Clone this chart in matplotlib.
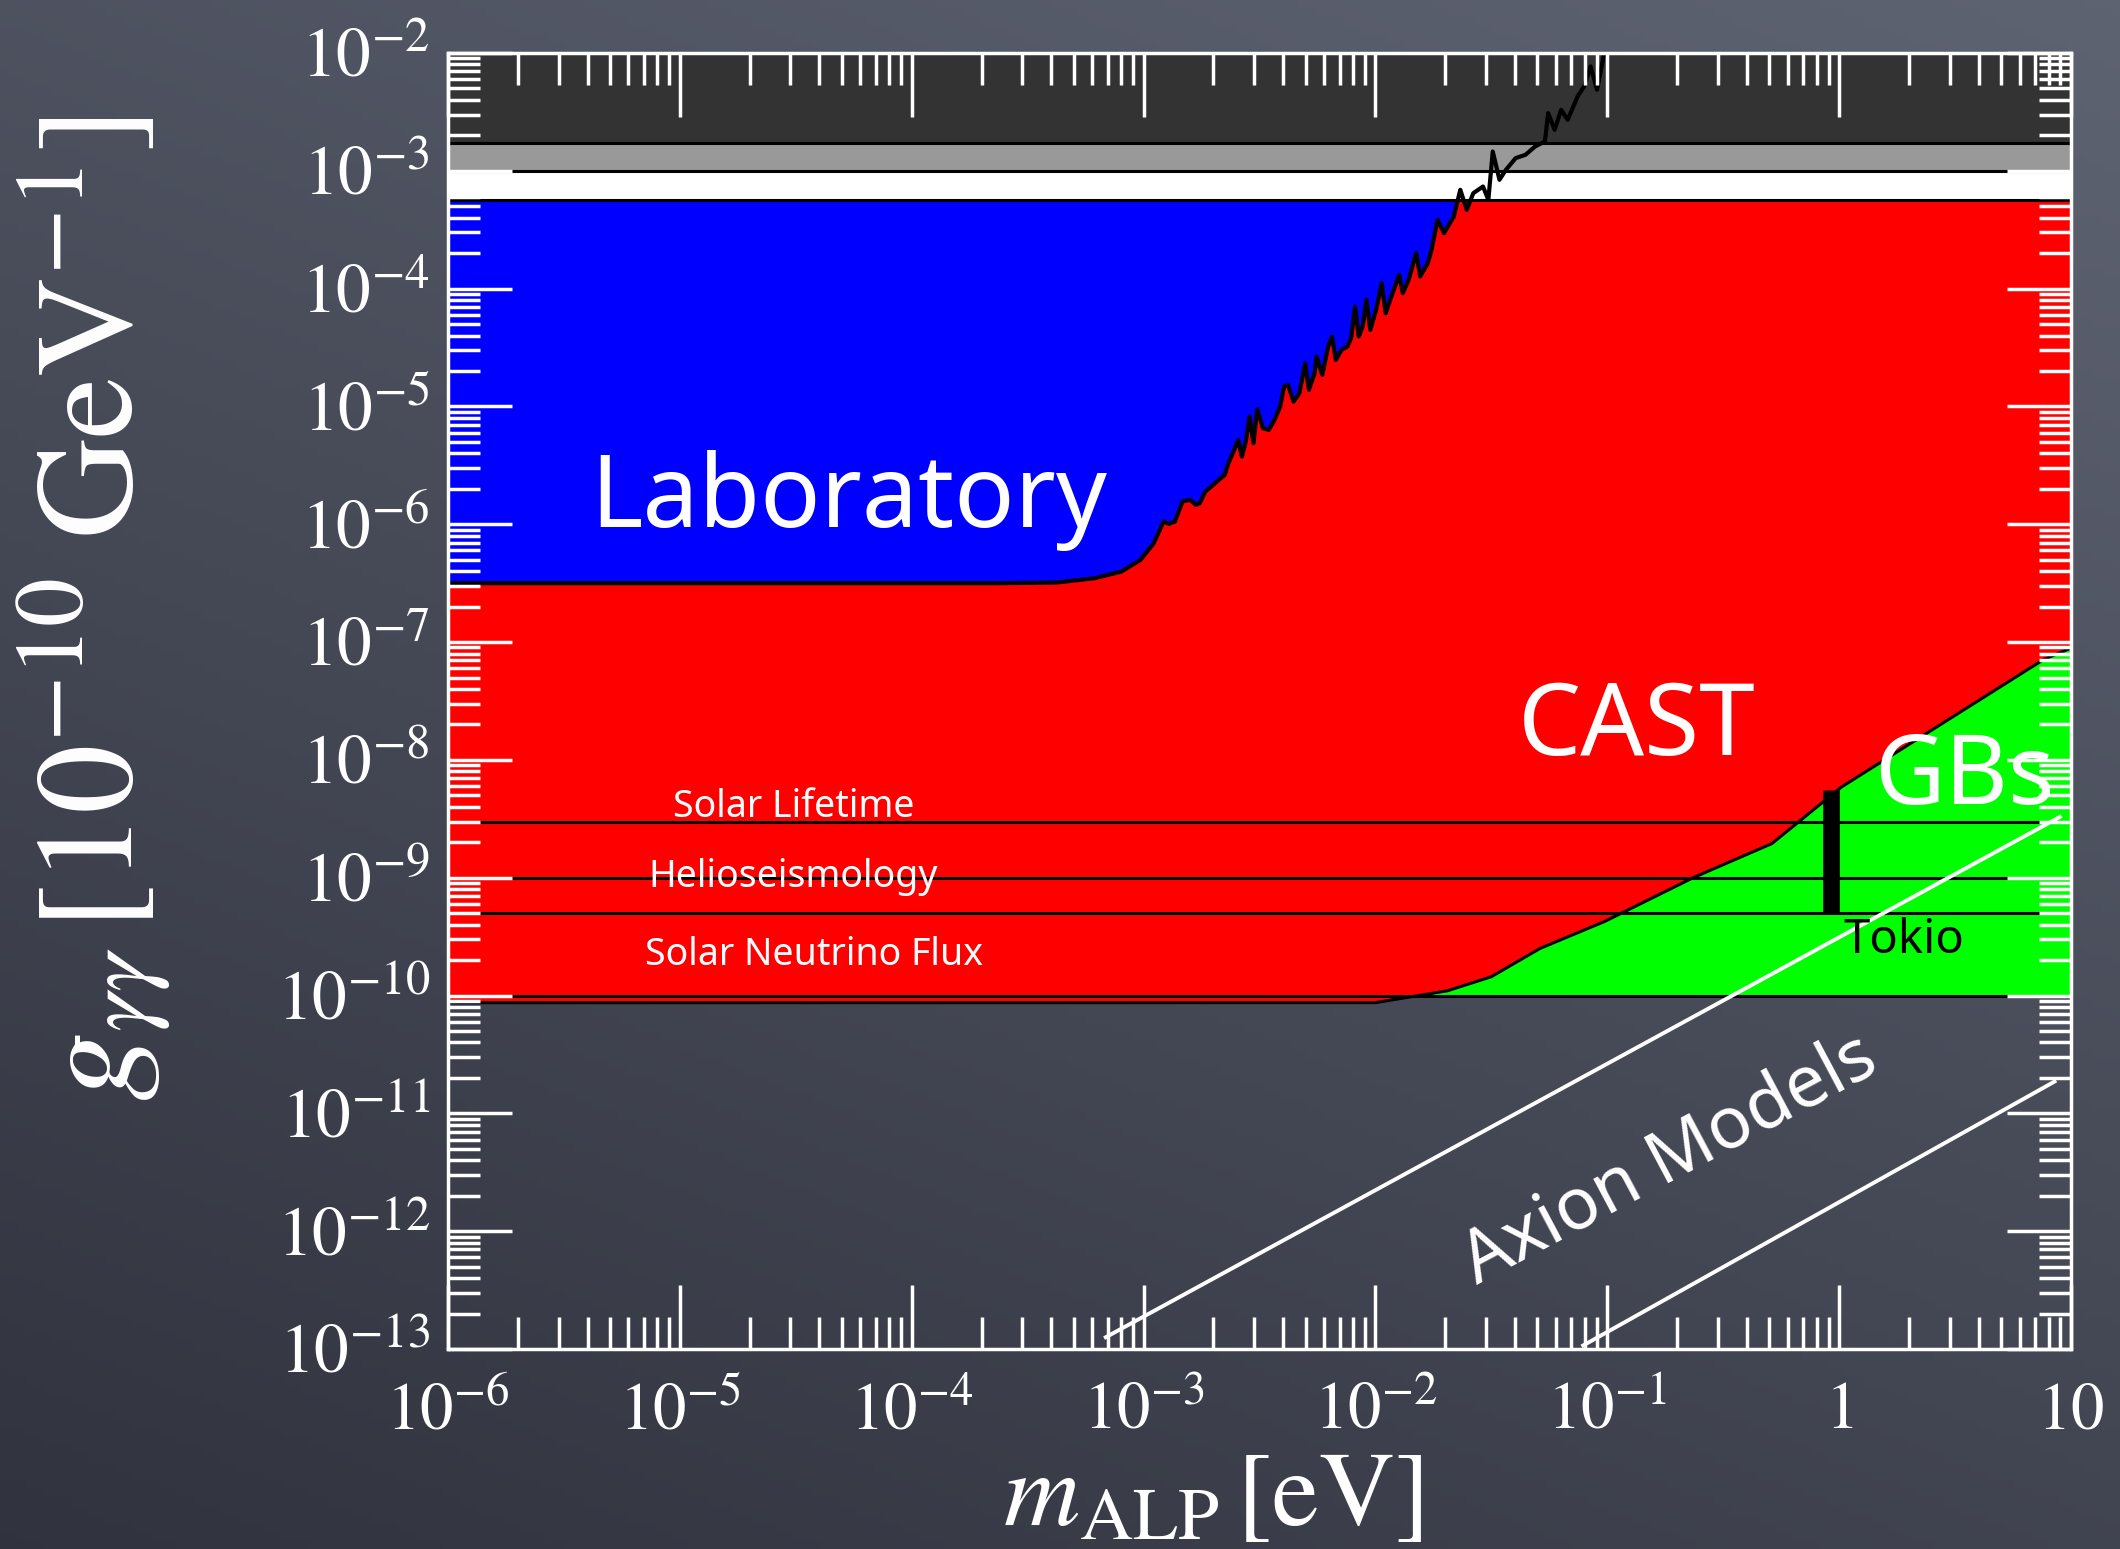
import numpy as np
import matplotlib
matplotlib.use("Agg")
import matplotlib.pyplot as plt
from matplotlib.ticker import FixedLocator, FixedFormatter, LogLocator, NullFormatter

# axis ranges and tick labels
m_lim = [1e-6, 10.0]
g_lim = [1e-13, 1e-2]
x_ticks = [1e-6, 1e-5, 1e-4, 1e-3, 1e-2, 1e-1, 1.0, 10.0]
x_ticklabels = [r"$10^{-6}$", r"$10^{-5}$", r"$10^{-4}$", r"$10^{-3}$",
                r"$10^{-2}$", r"$10^{-1}$", r"$1$", r"$10$"]
y_ticks = [10.0 ** p for p in range(-13, -1)]
y_ticklabels = [r"$10^{%d}$" % p for p in range(-13, -1)]

# horizontal bands at the top of the plot
band_dark = [1.73e-3, 1e-2]
band_grey = [1e-3, 1.73e-3]
band_white = [5.6e-4, 1e-3]

# CAST region
cast_top = 5.6e-4
cast_floor = 8.7e-11

# astrophysical bounds
solar_bounds = [3.0e-9, 1.0e-9, 5.0e-10]
solar_names = ["Solar Lifetime", "Helioseismology", "Solar Neutrino Flux"]
gb_floor = 1e-10

# globular cluster (GBs) / CAST boundary, log10 values
gb_log_m = [-2.00, -1.69, -1.50, -1.29, -1.01, -0.63, -0.29, 0.01, 0.88, 1.00]
gb_log_g = [-10.06, -9.96, -9.84, -9.60, -9.37, -9.00, -8.71, -8.23, -7.15, -7.05]

# laboratory exclusion edge, log10 values
lab_log_m = [-6.000, -3.625, -3.377, -3.212, -3.096, -3.014, -2.956, -2.914, -2.890, -2.865,
             -2.832, -2.799, -2.774, -2.758, -2.733, -2.675, -2.650, -2.634, -2.609, -2.592,
             -2.576, -2.559, -2.543, -2.526, -2.510, -2.485, -2.460, -2.435, -2.411, -2.394,
             -2.377, -2.353, -2.328, -2.303, -2.287, -2.262, -2.254, -2.229, -2.204, -2.187,
             -2.171, -2.146, -2.121, -2.105, -2.088, -2.072, -2.055, -2.039, -2.022, -1.997,
             -1.973, -1.956, -1.931, -1.898, -1.882, -1.857, -1.824, -1.807, -1.774, -1.758,
             -1.732, -1.704, -1.662, -1.634, -1.606, -1.578, -1.536, -1.513, -1.494, -1.465,
             -1.437, -1.395, -1.353, -1.311, -1.269, -1.255, -1.227, -1.199, -1.171, -1.128,
             -1.100, -1.072, -1.044, -1.016]
lab_log_g = [-6.500, -6.500, -6.495, -6.458, -6.402, -6.303, -6.161, -5.977, -5.997, -5.977,
             -5.807, -5.793, -5.836, -5.822, -5.722, -5.623, -5.581, -5.482, -5.369, -5.284,
             -5.425, -5.298, -5.086, -5.312, -5.024, -5.185, -5.199, -5.114, -5.001, -4.831,
             -4.817, -4.959, -4.888, -4.633, -4.859, -4.718, -4.577, -4.732, -4.492, -4.407,
             -4.605, -4.520, -4.492, -4.421, -4.152, -4.407, -4.322, -4.095, -4.350, -4.180,
             -3.954, -4.209, -4.067, -3.883, -4.039, -3.926, -3.699, -3.897, -3.784, -3.671,
             -3.416, -3.529, -3.388, -3.161, -3.331, -3.190, -3.133, -3.246, -2.836, -3.076,
             -2.991, -2.892, -2.864, -2.793, -2.751, -2.510, -2.652, -2.482, -2.567, -2.369,
             -2.284, -2.114, -2.312, -2.029]

# Tokio helioscope
tokio_m = 0.925
tokio_g = [5.0e-10, 5.6e-9]

# axion model band edges, log10 values
axion_hi_log_m = [-3.163, 0.952]
axion_hi_log_g = [-12.90, -8.484]
axion_lo_log_m = [-1.104, 0.929]
axion_lo_log_g = [-12.97, -10.73]

plt.rcParams["mathtext.fontset"] = "stix"
plt.rcParams["font.family"] = "STIXGeneral"
label_font = "Noto Sans"

fig = plt.figure(figsize=(21.2, 15.49), dpi=100)

# chalkboard backdrop
bg = fig.add_axes([0, 0, 1, 1], zorder=-10)
U, V = np.meshgrid(np.linspace(0, 1, 240), np.linspace(0, 1, 180))
L = np.clip(0.3 * U + 0.55 * V + 0.1, 0, 1)[..., None]
dark = np.array([0.17, 0.18, 0.22])
light = np.array([0.38, 0.40, 0.46])
bg.imshow(dark + L * (light - dark), origin="lower", extent=[0, 1, 0, 1], aspect="auto")
bg.axis("off")

ax = fig.add_axes([448 / 2120, 1 - 1349 / 1549, (2071 - 448) / 2120, (1349 - 53) / 1549])
ax.set_facecolor("none")
ax.set_xscale("log")
ax.set_yscale("log")
ax.set_xlim(m_lim)
ax.set_ylim(g_lim)

gb_m = 10.0 ** np.array(gb_log_m)
gb_g = 10.0 ** np.array(gb_log_g)
lab_m = 10.0 ** np.array(lab_log_m)
lab_g = 10.0 ** np.array(lab_log_g)

# top bands
ax.fill_between(m_lim, band_dark[0], band_dark[1], color="#333333", lw=0)
ax.fill_between(m_lim, band_grey[0], band_grey[1], color="#999999", lw=0)
ax.fill_between(m_lim, band_white[0], band_white[1], color="white", lw=0)

# CAST
ax.fill(np.r_[m_lim[0], gb_m, m_lim[1], m_lim[0]],
        np.r_[cast_floor, gb_g, cast_top, cast_top], color="#ff0000", lw=0)

# globular clusters, above the 1e-10 floor
lgf = np.log10(gb_floor)
keep = np.array(gb_log_g) > lgf
i0 = np.argmax(keep)
m_cross = 10 ** np.interp(lgf, gb_log_g[i0 - 1:i0 + 1], gb_log_m[i0 - 1:i0 + 1])
ax.fill(np.r_[m_cross, gb_m[keep], m_lim[1]],
        np.r_[gb_floor, gb_g[keep], gb_floor], color="#00ff00", lw=0)

# laboratory, up to where the edge leaves the CAST region
lct = np.log10(cast_top)
j = np.argmax(np.array(lab_log_g) > lct)
m_lab_cross = 10 ** np.interp(lct, lab_log_g[j - 1:j + 1], lab_log_m[j - 1:j + 1])
ax.fill(np.r_[lab_m[:j], m_lab_cross, m_lim[0]],
        np.r_[lab_g[:j], cast_top, cast_top], color="#0000ff", lw=0)

# black outlines
for g in [band_dark[0], band_grey[0], band_white[0]] + solar_bounds + [gb_floor]:
    ax.axhline(g, color="black", lw=2.2, zorder=2)
ax.plot(np.r_[m_lim[0], gb_m], np.r_[cast_floor, gb_g], color="black", lw=2.2)
ax.plot(lab_m, lab_g, color="black", lw=3.0)
ax.plot([tokio_m, tokio_m], tokio_g, color="black", lw=12, solid_capstyle="butt")

# axion models
ax.plot(10.0 ** np.array(axion_hi_log_m), 10.0 ** np.array(axion_hi_log_g), color="white", lw=2.8)
ax.plot(10.0 ** np.array(axion_lo_log_m), 10.0 ** np.array(axion_lo_log_g), color="white", lw=2.8)

# ticks and frame
ax.xaxis.set_major_locator(FixedLocator(x_ticks))
ax.xaxis.set_major_formatter(FixedFormatter(x_ticklabels))
ax.yaxis.set_major_locator(FixedLocator(y_ticks))
ax.yaxis.set_major_formatter(FixedFormatter(y_ticklabels))
for axis in (ax.xaxis, ax.yaxis):
    axis.set_minor_locator(LogLocator(base=10, subs=np.arange(2, 10), numticks=1000))
    axis.set_minor_formatter(NullFormatter())
ax.tick_params(which="both", direction="in", top=True, right=True,
               color="white", width=2.5, labelcolor="white")
ax.tick_params(which="major", length=46)
ax.tick_params(which="minor", length=23)
ax.tick_params(axis="x", which="major", labelsize=48, pad=24)
ax.tick_params(axis="y", which="major", labelsize=50, pad=13)
ax.set_axisbelow(False)
for s in ax.spines.values():
    s.set_color("white")
    s.set_linewidth(2.5)

# region labels
ax.text(10 ** -4.27, 10 ** -6.02, "Laboratory", color="white", fontsize=72,
        family=label_font, ha="center", va="baseline")
ax.text(10 ** -0.875, 10 ** -7.96, "CAST", color="white", fontsize=72,
        family=label_font, ha="center", va="baseline")
ax.text(10 ** 0.54, 10 ** -8.37, "GBs", color="white", fontsize=70,
        family=label_font, ha="center", va="baseline")
solar_pos = [(-4.51, -8.484), (-4.51, -9.078), (-4.42, -9.74)]
for name, (lx, ly) in zip(solar_names, solar_pos):
    ax.text(10 ** lx, 10 ** ly, name, color="white", fontsize=27,
            family=label_font, ha="center", va="baseline")
ax.text(10 ** 0.019, 10 ** -9.64, "Tokio", color="black", fontsize=34,
        family=label_font, ha="left", va="baseline")
ax.text(10 ** -0.73, 10 ** -11.40, "Axion Models", color="white", fontsize=52,
        family=label_font, ha="center", va="center", rotation=28, rotation_mode="anchor")

ax.set_xlabel(r"$m_{\mathrm{ALP}}\,[\mathrm{eV}]$", fontsize=76, color="white", va="center")
ax.xaxis.set_label_coords(0.471, -0.1165)
ax.set_ylabel(r"$g_{\gamma\gamma}\,[10^{-10}\ \mathrm{GeV}^{-1}]$", fontsize=100,
              color="white", va="center")
ax.yaxis.set_label_coords(-0.2175, 0.571)

fig.savefig("out.png", dpi=100)
